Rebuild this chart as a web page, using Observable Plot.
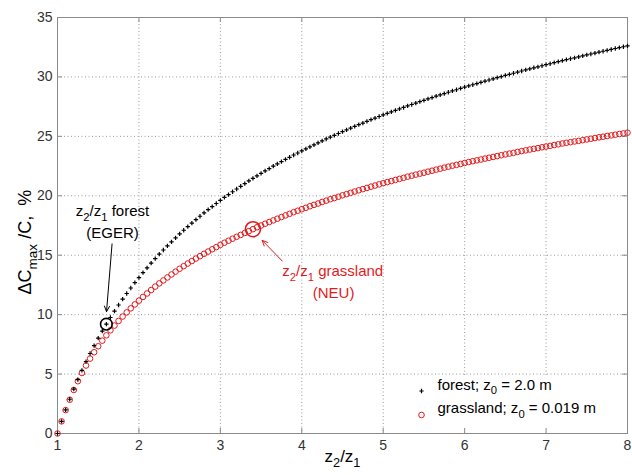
<!DOCTYPE html>
<html>
<head>
<meta charset="utf-8">
<script src="https://cdn.jsdelivr.net/npm/d3@7"></script>
<script src="https://cdn.jsdelivr.net/npm/@observablehq/plot@0.6"></script>
<style>
  body { margin: 0; background: #fff; }
  #chart svg { display: block; }
</style>
</head>
<body>
<div id="chart"></div>
<script>
// ---- data ----
const ratio = [
  1.00,1.05,1.10,1.15,1.20,1.25,1.30,1.35,1.40,1.45,
  1.50,1.55,1.60,1.65,1.70,1.75,1.80,1.85,1.90,1.95,
  2.00,2.05,2.10,2.15,2.20,2.25,2.30,2.35,2.40,2.45,
  2.50,2.55,2.60,2.65,2.70,2.75,2.80,2.85,2.90,2.95,
  3.00,3.05,3.10,3.15,3.20,3.25,3.30,3.35,3.40,3.45,
  3.50,3.55,3.60,3.65,3.70,3.75,3.80,3.85,3.90,3.95,
  4.00,4.05,4.10,4.15,4.20,4.25,4.30,4.35,4.40,4.45,
  4.50,4.55,4.60,4.65,4.70,4.75,4.80,4.85,4.90,4.95,
  5.00,5.05,5.10,5.15,5.20,5.25,5.30,5.35,5.40,5.45,
  5.50,5.55,5.60,5.65,5.70,5.75,5.80,5.85,5.90,5.95,
  6.00,6.05,6.10,6.15,6.20,6.25,6.30,6.35,6.40,6.45,
  6.50,6.55,6.60,6.65,6.70,6.75,6.80,6.85,6.90,6.95,
  7.00,7.05,7.10,7.15,7.20,7.25,7.30,7.35,7.40,7.45,
  7.50,7.55,7.60,7.65,7.70,7.75,7.80,7.85,7.90,7.95,
  8.00
];
const forest = [
  0,1.02,1.98,2.88,3.74,4.54,5.31,6.04,6.73,7.39,
  8.02,8.62,9.20,9.76,10.29,10.81,11.30,11.78,12.24,12.69,
  13.12,13.54,13.94,14.34,14.72,15.09,15.44,15.79,16.13,16.46,
  16.79,17.10,17.41,17.70,18.00,18.28,18.56,18.83,19.09,19.35,
  19.61,19.86,20.10,20.34,20.57,20.80,21.03,21.25,21.46,21.68,
  21.88,22.09,22.29,22.49,22.68,22.87,23.06,23.24,23.43,23.60,
  23.78,23.95,24.12,24.29,24.45,24.62,24.78,24.94,25.09,25.24,
  25.40,25.54,25.69,25.84,25.98,26.12,26.26,26.40,26.53,26.67,
  26.80,26.93,27.06,27.18,27.31,27.43,27.56,27.68,27.80,27.92,
  28.03,28.15,28.26,28.38,28.49,28.60,28.71,28.82,28.92,29.03,
  29.14,29.24,29.34,29.44,29.54,29.64,29.74,29.84,29.94,30.03,
  30.13,30.22,30.31,30.41,30.50,30.59,30.68,30.77,30.85,30.94,
  31.03,31.11,31.20,31.28,31.37,31.45,31.53,31.61,31.69,31.77,
  31.85,31.93,32.01,32.09,32.16,32.24,32.31,32.39,32.46,32.54,
  32.61
];
const grassland = [
  0,1.02,1.97,2.84,3.66,4.40,5.09,5.72,6.30,6.84,
  7.34,7.81,8.26,8.68,9.08,9.47,9.84,10.19,10.53,10.86,
  11.18,11.49,11.78,12.07,12.36,12.63,12.88,13.13,13.38,13.62,
  13.86,14.08,14.30,14.51,14.72,14.92,15.12,15.31,15.50,15.68,
  15.87,16.05,16.22,16.39,16.55,16.71,16.87,17.03,17.19,17.35,
  17.50,17.65,17.79,17.93,18.07,18.21,18.35,18.48,18.62,18.74,
  18.87,18.99,19.12,19.24,19.35,19.48,19.59,19.71,19.81,19.92,
  20.04,20.14,20.25,20.36,20.46,20.56,20.66,20.77,20.86,20.96,
  21.06,21.15,21.24,21.33,21.42,21.51,21.61,21.69,21.78,21.86,
  21.94,22.03,22.11,22.20,22.28,22.37,22.45,22.53,22.60,22.68,
  22.76,22.84,22.91,22.98,23.05,23.13,23.20,23.27,23.34,23.41,
  23.48,23.55,23.61,23.69,23.76,23.82,23.89,23.95,24.01,24.08,
  24.14,24.20,24.27,24.33,24.40,24.46,24.51,24.57,24.62,24.68,
  24.74,24.80,24.86,24.92,24.97,25.03,25.08,25.14,25.20,25.25,
  25.31
];
const xTicks = [1, 2, 3, 4, 5, 6, 7, 8];
const yTicks = [0, 5, 10, 15, 20, 25, 30, 35];
const seriesLabels = ["forest; z_0 = 2.0 m", "grassland; z_0 = 0.019 m"];
const xTitle = "z_2/z_1";
const yTitle = "\u0394C_{max}\u00a0/C,\u00a0\u00a0%";

const forestSite = [{x: 1.6, y: 9.20}];
const grassSite = [{x: 3.4, y: 17.19}];
const forestNote = [
  {x: 1.675, y: 18.71, text: "z_2/z_1 forest"},
  {x: 1.675, y: 16.89, text: "(EGER)"}
];
const grassNote = [
  {x: 4.38, y: 13.66, text: "z_2/z_1 grassland"},
  {x: 4.39, y: 11.81, text: "(NEU)"}
];
const forestArrow = [{x1: 1.67, y1: 15.95, x2: 1.602, y2: 10.25}];
const grassArrow = [{x1: 3.76, y1: 14.51, x2: 3.514, y2: 16.25}];
const legendArea = [{x1: 5.15, x2: 8, y1: 0, y2: 4.75}];
const yTitleAt = [{y: 16.1}];

// ---- layout ----
const W = 632, H = 475;
const mL = 57, mR = 5, mT = 17, mB = 42;
const FW = W - mL - mR, FH = H - mT - mB;
const TICK = 5;
const RED = "#e31a1c";
const AXIS = "#8a8a8a";

const rows = ratio.map((r, i) => ({r, forest: forest[i], grass: grassland[i]}));

const chart = Plot.plot({
  width: W, height: H,
  marginLeft: mL, marginRight: mR, marginTop: mT, marginBottom: mB,
  x: {domain: [1, 8]},
  y: {domain: [0, 35]},
  style: {fontFamily: "'Liberation Sans', Arial, sans-serif", fontSize: "14px", color: "#333", background: "#fff"},
  marks: [
    Plot.gridX(xTicks, {stroke: "#9a9a9a", strokeOpacity: 1, strokeDasharray: "1,2.5"}),
    Plot.gridY(yTicks, {stroke: "#9a9a9a", strokeOpacity: 1, strokeDasharray: "1,2.5"}),
    Plot.rect(legendArea, {x1: "x1", x2: "x2", y1: "y1", y2: "y2", fill: "white"}),
    Plot.frame({stroke: AXIS}),
    Plot.tickX(xTicks, {x: d => d, insetTop: FH - TICK, stroke: AXIS}),
    Plot.tickX(xTicks, {x: d => d, insetBottom: FH - TICK, stroke: AXIS}),
    Plot.tickY(yTicks, {y: d => d, insetRight: FW - TICK, stroke: AXIS}),
    Plot.tickY(yTicks, {y: d => d, insetLeft: FW - TICK, stroke: AXIS}),
    Plot.axisX({ticks: xTicks, tickFormat: d => String(d), tickSize: 0, tickPadding: 7, label: null, fontSize: 14, fill: "#333"}),
    Plot.axisY({ticks: yTicks, tickFormat: d => String(d), tickSize: 0, tickPadding: 5, label: null, fontSize: 14, fill: "#333"}),
    // series
    Plot.dot(rows, {x: "r", y: "grass", r: 2.8, stroke: RED, strokeWidth: 1, fill: "none"}),
    Plot.dot(rows, {x: "r", y: "forest", symbol: "plus", r: 1.5, stroke: "black", strokeWidth: 1.2}),
    // annotations
    Plot.dot(forestSite, {x: "x", y: "y", r: 5.8, stroke: "black", strokeWidth: 1.6, fill: "none"}),
    Plot.dot(grassSite, {x: "x", y: "y", r: 7.5, stroke: RED, strokeWidth: 1.6, fill: "none"}),
    Plot.arrow(forestArrow, {x1: "x1", y1: "y1", x2: "x2", y2: "y2", stroke: "black", strokeWidth: 1, headLength: 9, headAngle: 50}),
    Plot.arrow(grassArrow, {x1: "x1", y1: "y1", x2: "x2", y2: "y2", stroke: RED, strokeWidth: 1, headLength: 9, headAngle: 50}),
    Plot.text(forestNote, {x: "x", y: "y", text: "text", fontSize: 15, fill: "black"}),
    Plot.text(grassNote, {x: "x", y: "y", text: "text", fontSize: 15, fill: RED}),
    // legend
    Plot.dot([seriesLabels[0]], {frameAnchor: "bottom-right", dx: -206, dy: -42.5, symbol: "plus", r: 1.5, stroke: "black", strokeWidth: 1.2}),
    Plot.dot([seriesLabels[1]], {frameAnchor: "bottom-right", dx: -206, dy: -18.5, r: 2.8, stroke: RED, strokeWidth: 1, fill: "none"}),
    Plot.text([seriesLabels[0]], {frameAnchor: "bottom-right", dx: -190, dy: -44, textAnchor: "start", fontSize: 15, fill: "black", text: d => d}),
    Plot.text([seriesLabels[1]], {frameAnchor: "bottom-right", dx: -190, dy: -20.3, textAnchor: "start", fontSize: 15, fill: "black", text: d => d}),
    // axis titles
    Plot.text([xTitle], {frameAnchor: "bottom", dy: 28, fontSize: 17, fill: "black", text: d => d}),
    Plot.text(yTitleAt, {y: "y", frameAnchor: "left", textAnchor: "middle", dx: -32, rotate: -90, fontSize: 18, fill: "black", text: () => yTitle})
  ]
});

document.getElementById("chart").appendChild(chart);

// turn "_x" / "_{xyz}" into subscripts
d3.select(chart).selectAll("text").each(function () {
  const s = this.textContent;
  if (!s.includes("_") || this.querySelector("tspan")) return;
  const fs = parseFloat(getComputedStyle(this).fontSize) || 14;
  const shift = 0.32 * fs;
  const parts = [];
  const re = /_\{([^}]*)\}|_(.)/g;
  let last = 0, m;
  while ((m = re.exec(s))) {
    if (m.index > last) parts.push({t: s.slice(last, m.index), sub: false});
    parts.push({t: m[1] !== undefined ? m[1] : m[2], sub: true});
    last = re.lastIndex;
  }
  if (last < s.length) parts.push({t: s.slice(last), sub: false});
  const el = d3.select(this);
  el.text(null);
  let lowered = false;
  for (const p of parts) {
    const ts = el.append("tspan").text(p.t);
    if (p.sub && !lowered) { ts.attr("dy", shift).attr("font-size", (0.75 * fs) + "px"); lowered = true; }
    else if (p.sub) { ts.attr("font-size", (0.75 * fs) + "px"); }
    else if (lowered) { ts.attr("dy", -shift); lowered = false; }
  }
});
</script>
</body>
</html>
